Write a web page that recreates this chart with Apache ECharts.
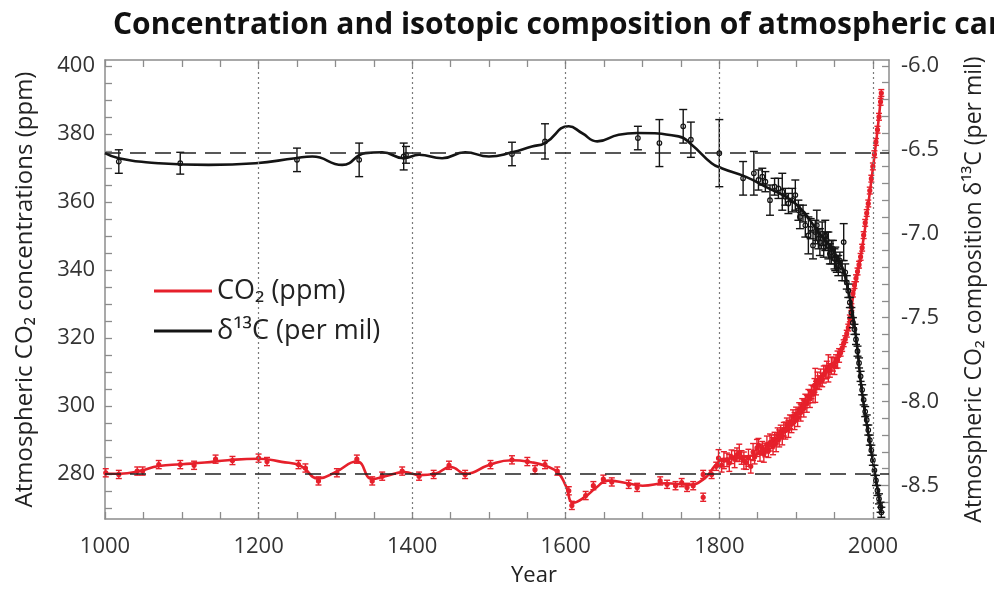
<!DOCTYPE html>
<html><head><meta charset="utf-8">
<script src="https://cdn.jsdelivr.net/npm/echarts@6/dist/echarts.min.js"></script>
<style>html,body{margin:0;padding:0;background:#fff}#c{width:994px;height:592px}</style>
</head><body><div id="c"></div>
<script>
const titleText = 'Concentration and isotopic composition of atmospheric carbon dioxide';
const xLabelValues = [1000, 1200, 1400, 1600, 1800, 2000];
const xGridYears = [1200, 1400, 1600, 1800, 2000];
const xTickValues = [1000,1050,1100,1150,1200,1250,1300,1350,1400,1450,1500,1550,1600,1650,1700,1750,1800,1850,1900,1950,2000];
const co2LabelValues = [280, 300, 320, 340, 360, 380, 400];
const co2TickValues = [270,275,280,285,290,295,300,305,310,315,320,325,330,335,340,345,350,355,360,365,370,375,380,385,390,395,400];
const d13LabelValues = [-8.5, -8.0, -7.5, -7.0, -6.5, -6.0];
const d13TickValues = [-8.6,-8.5,-8.4,-8.3,-8.2,-8.1,-8.0,-7.9,-7.8,-7.7,-7.6,-7.5,-7.4,-7.3,-7.2,-7.1,-7.0,-6.9,-6.8,-6.7,-6.6,-6.5,-6.4,-6.3,-6.2,-6.1,-6.0];
const co2Baseline = 280;
const d13Baseline = -6.52;

// CO2 smoothing curve [year, ppm]
const co2Curve = [[1000,280.0],[1020,280.0],[1045,280.8],[1070,282.3],[1100,282.8],[1130,283.3],[1160,284.0],[1200,284.4],[1230,283.5],[1255,282.3],[1278,278.6],[1300,280.5],[1328,283.6],[1348,278.5],[1365,279.3],[1390,280.5],[1410,279.6],[1430,280.0],[1450,282.0],[1470,280.0],[1500,282.6],[1530,284.0],[1555,283.4],[1575,282.2],[1590,280.3],[1600,276.5],[1610,271.5],[1625,273.2],[1640,276.0],[1655,278.0],[1680,277.2],[1700,276.5],[1730,277.2],[1760,276.8],[1780,278.5],[1795,282.5],[1805,284.2],[1830,284.8],[1860,287.2],[1890,293.8],[1920,303.5],[1940,310.2],[1955,314.5],[1965,320.5],[1975,333.0],[1985,345.0],[1995,361.0],[2005,379.0],[2011,392.0]];

// CO2 measurements [year, ppm, error]
const co2Points = [[1001,280.3,1.2],[1018,279.8,1.2],[1042,280.8,1.2],[1049,280.8,1.2],[1070,282.7,1.2],[1098,282.7,1.2],[1116,282.5,1.2],[1144,284.3,1.2],[1166,283.9,1.2],[1200,284.6,1.2],[1211,283.6,1.2],[1252,282.7,1.2],[1261,281.7,1.2],[1278,277.9,1.2],[1302,280.3,1.2],[1328,284.3,1.2],[1348,277.9,1.2],[1361,279.3,1.2],[1387,280.8,1.2],[1409,279.3,1.2],[1428,279.8,1.2],[1448,282.5,1.2],[1469,279.8,1.2],[1502,282.7,1.2],[1530,284.1,1.2],[1550,283.6,1.2],[1560,281.2,1.2],[1573,282.7,1.2],[1589,280.8,1.2],[1604,275.0,1.2],[1608,270.7,1.2],[1626,273.6,1.2],[1636,276.5,1.2],[1649,278.4,1.2],[1660,277.6,1.2],[1682,276.9,1.2],[1693,276.0,1.2],[1723,277.9,1.2],[1732,276.9,1.2],[1743,276.5,1.2],[1751,277.4,1.2],[1758,276.0,1.2],[1766,276.5,1.2],[1779,279.8,1.2],[1779,273.1,1.2],[1790,279.8,1.2],[1796,282.2,1.2],
[1799,284.6,2.5],[1803,282.5,2.0],[1806,284.0,2.5],[1810,284.1,2.0],[1813,283.2,2.5],[1816,285.0,2.0],[1820,284.3,2.5],[1823,285.6,2.0],[1826,286.2,2.5],[1829,284.8,2.0],[1832,283.9,2.5],[1835,283.3,2.0],[1838,284.7,2.5],[1841,282.2,2.0],[1844,286.4,2.5],[1846,284.9,2.0],[1849,287.6,2.5],[1851,288.4,2.0],[1853,286.2,2.5],[1856,287.5,2.0],[1858,285.9,2.5],[1860,287.0,2.0],[1862,288.6,2.5],[1864,286.8,2.0],[1866,289.2,2.5],[1868,289.4,2.0],[1870,288.1,2.5],[1872,290.2,2.0],[1874,289.0,2.5],[1876,291.5,2.0],[1878,290.4,2.5],[1880,292.3,2.0],[1882,291.0,2.5],[1884,293.1,2.0],[1886,292.7,2.5],[1888,294.4,2.0],[1890,293.2,2.5],[1892,295.3,2.0],[1894,294.6,2.5],[1896,296.8,2.0],[1898,295.5,2.5],[1900,297.6,2.0],[1902,296.4,2.5],[1904,298.9,2.0],[1906,298.0,2.5],[1908,300.1,2.0],[1910,299.2,2.5],[1912,301.4,2.0],[1914,300.6,2.5],[1916,302.8,2.0],[1918,302.0,2.5],[1920,304.1,2.0],[1922,303.4,2.5],[1924,306.0,2.0],[1925,306.0,5.0],[1926,305.2,2.0],[1928,307.4,2.5],[1930,306.8,2.0],[1932,308.3,2.5],[1934,307.6,2.0],[1936,309.2,2.5],[1938,309.9,2.0],[1940,310.6,2.5],[1942,311.0,4.0],[1944,310.4,2.0],[1946,311.8,2.5],[1948,312.2,2.0],[1950,311.7,2.5],[1952,313.0,2.0],[1954,313.6,2.5],[1956,314.8,2.0],[1958,315.6,1.0],[1960,317.0,1.0],[1962,318.4,1.0],[1964,319.6,1.0],[1966,321.2,1.0],[1968,323.0,1.0],[1970,325.7,1.0],[1972,329.0,1.0],[1974,333.0,1.0],[1976,335.5,1.0],[1978,337.5,1.0],[1980,339.5,1.0],[1982,341.5,1.0],[1984,343.8,1.0],[1986,346.5,1.0],[1988,350.2,1.0],[1990,353.8,1.0],[1992,356.7,1.0],[1994,359.5,1.0],[1996,363.3,1.0],[1998,366.8,1.0],[2000,370.4,1.0],[2002,374.0,1.0],[2004,377.6,1.0],[2006,381.2,1.0],[2008,385.0,1.0],[2010,389.4,1.0],[2011,392.0,1.0]];

// d13C smoothing curve [year, per mil]
const d13Curve = [[1000,-6.52],[1018,-6.55],[1070,-6.58],[1135,-6.59],[1196,-6.58],[1248,-6.55],[1270,-6.54],[1309,-6.59],[1339,-6.52],[1361,-6.515],[1389,-6.55],[1409,-6.53],[1439,-6.55],[1469,-6.515],[1500,-6.54],[1530,-6.515],[1556,-6.48],[1573,-6.46],[1604,-6.36],[1621,-6.40],[1641,-6.45],[1669,-6.41],[1693,-6.40],[1747,-6.42],[1764,-6.47],[1790,-6.58],[1803,-6.61],[1834,-6.66],[1860,-6.72],[1899,-6.82],[1929,-6.99],[1955,-7.15],[1968,-7.34],[1977,-7.58],[1986,-7.95],[1998,-8.30],[2011,-8.65]];

// d13C measurements [year, per mil, error]
const d13Points = [[1018,-6.57,0.07],[1098,-6.58,0.065],[1250,-6.56,0.07],[1331,-6.56,0.10],[1389,-6.54,0.08],[1392,-6.53,0.05],[1530,-6.525,0.07],[1573,-6.45,0.105],[1694,-6.43,0.07],[1722,-6.46,0.14],[1753,-6.36,0.10],[1763,-6.44,0.105],[1800,-6.52,0.20],
[1831,-6.67,0.10],[1845,-6.64,0.13],[1851,-6.68,0.06],[1856,-6.66,0.05],[1860,-6.69,0.06],[1866,-6.80,0.09],[1872,-6.72,0.05],[1877,-6.73,0.06],[1882,-6.75,0.11],[1886,-6.78,0.05],[1890,-6.82,0.06],[1895,-6.80,0.07],[1899,-6.77,0.09],[1903,-6.86,0.06],[1905,-6.90,0.07],[1909,-6.88,0.05],[1912,-6.95,0.07],[1916,-7.01,0.11],[1919,-6.97,0.06],[1922,-7.07,0.08],[1925,-6.99,0.07],[1927,-6.95,0.09],[1929,-7.03,0.06],[1931,-7.05,0.08],[1934,-7.00,0.07],[1936,-7.08,0.06],[1938,-7.01,0.09],[1940,-7.04,0.05],[1942,-7.07,0.08],[1944,-7.12,0.06],[1946,-7.11,0.07],[1948,-7.09,0.05],[1950,-7.15,0.06],[1951,-7.15,0.07],[1953,-7.18,0.05],[1955,-7.19,0.06],[1957,-7.16,0.05],[1960,-7.22,0.06],[1962,-7.05,0.11],[1964,-7.23,0.05],[1966,-7.29,0.04],[1968,-7.34,0.04],[1970,-7.41,0.03],[1972,-7.47,0.03],[1974,-7.53,0.03],[1976,-7.57,0.03],[1978,-7.63,0.03],[1980,-7.70,0.03],[1982,-7.77,0.03],[1984,-7.85,0.03],[1986,-7.93,0.03],[1988,-7.99,0.03],[1990,-8.06,0.03],[1992,-8.11,0.03],[1994,-8.17,0.03],[1996,-8.23,0.03],[1998,-8.29,0.03],[2000,-8.35,0.03],[2002,-8.41,0.03],[2004,-8.47,0.03],[2006,-8.53,0.03],[2008,-8.58,0.03],[2010,-8.63,0.03],[2011,-8.66,0.03]];

const RED = '#e6202b';
const BLACK = '#141414';
const FRAME = '#8c8c8c';
const FONT = 'Open Sans';

function errorBars(color, capHalf, r, hollow) {
  return function (params, api) {
    const x = api.value(0), v = api.value(1), e = api.value(2);
    const p = api.coord([x, v]);
    const t = api.coord([x, v + e]);
    const b = api.coord([x, v - e]);
    const st = { stroke: color, lineWidth: 1.4 };
    return {
      type: 'group',
      children: [
        { type: 'line', shape: { x1: p[0], y1: t[1], x2: p[0], y2: b[1] }, style: st },
        { type: 'line', shape: { x1: p[0] - capHalf, y1: t[1], x2: p[0] + capHalf, y2: t[1] }, style: st },
        { type: 'line', shape: { x1: p[0] - capHalf, y1: b[1], x2: p[0] + capHalf, y2: b[1] }, style: st },
        { type: 'circle', shape: { cx: p[0], cy: p[1], r: r }, style: { fill: hollow ? 'rgba(0,0,0,0)' : color, stroke: color, lineWidth: 1.2 } }
      ]
    };
  };
}

const chart = echarts.init(document.getElementById('c'), null, { renderer: 'canvas' });
chart.setOption({
  backgroundColor: '#ffffff',
  animation: false,
  textStyle: { fontFamily: FONT },
  title: {
    text: titleText, left: 108, top: 5,
    textStyle: { fontFamily: FONT, fontWeight: 'bold', fontSize: 30, color: '#111' }
  },
  legend: {
    orient: 'vertical', left: 149, top: 271, itemWidth: 58, itemHeight: 3, itemGap: 10,
    data: [{ name: 'CO₂ (ppm)', icon: 'rect' }, { name: 'δ¹³C (per mil)', icon: 'rect' }],
    textStyle: { fontFamily: FONT, fontSize: 27, color: '#222', lineHeight: 30 }
  },
  grid: { left: 105, right: 104, top: 60, bottom: 65, containLabel: false },
  xAxis: [{
    type: 'value', min: 1000, max: 2021, position: 'bottom',
    name: 'Year', nameLocation: 'middle', nameGap: 46,
    nameTextStyle: { fontFamily: FONT, fontSize: 22, color: '#222', padding: [0, 0, 0, 74] },
    axisLine: { show: true, lineStyle: { color: FRAME, width: 1.5 } },
    axisTick: { show: true, inside: true, length: 7, customValues: xTickValues, lineStyle: { color: FRAME, width: 1.3 } },
    axisLabel: { customValues: xLabelValues, margin: 17, fontFamily: FONT, fontSize: 22, color: '#333',
      formatter: function (v) { return String(v); } },
    splitLine: { show: false }
  }, {
    type: 'value', min: 1000, max: 2021, position: 'top',
    axisLine: { show: true, lineStyle: { color: FRAME, width: 1.5 } },
    axisTick: { show: true, inside: true, length: 7, customValues: xTickValues, lineStyle: { color: FRAME, width: 1.3 } },
    axisLabel: { show: false },
    splitLine: { show: false }
  }],
  yAxis: [{
    type: 'value', min: 266.7, max: 401.7, position: 'left',
    name: 'Atmospheric CO₂ concentrations (ppm)', nameLocation: 'middle', nameRotate: 90, nameGap: 68,
    nameTextStyle: { fontFamily: FONT, fontSize: 24, color: '#222' },
    axisLine: { show: true, lineStyle: { color: FRAME, width: 1.5 } },
    axisTick: { show: true, inside: true, length: 7, customValues: co2TickValues, lineStyle: { color: FRAME, width: 1.3 } },
    axisLabel: { customValues: co2LabelValues, margin: 10, fontFamily: FONT, fontSize: 22, color: '#333', padding: [5, 0, 0, 0] },
    splitLine: { show: false }
  }, {
    type: 'value', min: -8.70, max: -5.965, position: 'right',
    name: 'Atmospheric CO₂ composition δ¹³C (per mil)', nameLocation: 'middle', nameRotate: 90, nameGap: 74,
    nameTextStyle: { fontFamily: FONT, fontSize: 23, color: '#222' },
    axisLine: { show: true, lineStyle: { color: FRAME, width: 1.5 } },
    axisTick: { show: true, inside: true, length: 7, customValues: d13TickValues, lineStyle: { color: FRAME, width: 1.3 } },
    axisLabel: { customValues: d13LabelValues, margin: 12, fontFamily: FONT, fontSize: 22, color: '#333', padding: [10, 0, 0, 0],
      formatter: function (v) { return v.toFixed(1); } },
    splitLine: { show: false }
  }],
  series: [{
    name: 'grid-lines', type: 'line', data: [], xAxisIndex: 0, yAxisIndex: 0, silent: true,
    markLine: {
      silent: true, symbol: 'none', label: { show: false },
      lineStyle: { color: '#7a7a7a', type: [2, 3], width: 1.2 },
      data: xGridYears.map(function (y) { return { xAxis: y }; })
    }
  }, {
    name: 'CO₂ (ppm)', type: 'line', xAxisIndex: 0, yAxisIndex: 0, z: 3,
    data: co2Curve, smooth: 0.5, symbol: 'none',
    lineStyle: { color: RED, width: 2.6 }, itemStyle: { color: RED },
    markLine: {
      silent: true, symbol: 'none', label: { show: false },
      lineStyle: { color: '#222', type: [16, 9], width: 1.6 },
      data: [{ yAxis: co2Baseline }]
    }
  }, {
    name: 'co2-points', type: 'custom', xAxisIndex: 0, yAxisIndex: 0, z: 3,
    data: co2Points, encode: { x: 0, y: 1 },
    renderItem: errorBars(RED, 3, 2, false)
  }, {
    name: 'δ¹³C (per mil)', type: 'line', xAxisIndex: 0, yAxisIndex: 1, z: 4,
    data: d13Curve, smooth: 0.5, symbol: 'none',
    lineStyle: { color: BLACK, width: 2.6 }, itemStyle: { color: BLACK },
    markLine: {
      silent: true, symbol: 'none', label: { show: false },
      lineStyle: { color: '#222', type: [16, 9], width: 1.6 },
      data: [{ yAxis: d13Baseline }]
    }
  }, {
    name: 'd13-points', type: 'custom', xAxisIndex: 0, yAxisIndex: 1, z: 4,
    data: d13Points, encode: { x: 0, y: 1 },
    renderItem: errorBars(BLACK, 4, 2.3, true)
  }]
});
</script>
</body></html>
